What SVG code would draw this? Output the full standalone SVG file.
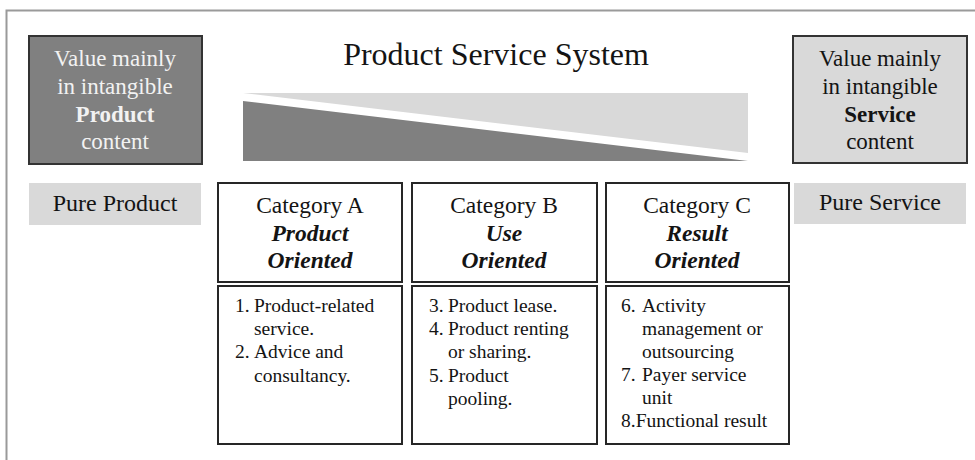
<svg xmlns="http://www.w3.org/2000/svg" width="975" height="460" viewBox="0 0 975 460" font-family="'Liberation Serif', 'DejaVu Serif', serif">
  <style>
    text { fill: #141414; }
    .c { text-anchor: middle; }
    .lbl { font-size: 23px; }
    .hdr { font-size: 23.5px; }
    .bi { font-weight: bold; font-style: italic; }
    .li { font-size: 19.5px; }
    .box { fill: #ffffff; stroke: #262626; stroke-width: 2; }
    .ext { stroke: #333333; stroke-width: 2; }
  </style>

  <rect width="975" height="460" fill="#ffffff"/>

  <!-- page frame -->
  <path d="M6.5 460 V10.5 H975" fill="none" stroke="#9a9a9a" stroke-width="2"/>

  <!-- title -->
  <text x="496" y="65" class="c" font-size="32">Product Service System</text>

  <!-- product / service balance wedge -->
  <g id="wedge">
    <polygon points="243,93 748,93 748,153" fill="#d9d9d9"/>
    <polygon points="243,101 748,161 243,161" fill="#808080"/>
  </g>

  <!-- left extreme: product -->
  <g id="value-product">
    <rect x="29" y="36" width="173" height="128" fill="#808080" class="ext"/>
    <text class="c lbl" x="115" y="66" style="fill:#f2f2f2">Value mainly</text>
    <text class="c lbl" x="115" y="94" style="fill:#f2f2f2">in intangible</text>
    <text class="c lbl" x="115" y="122" font-weight="bold" style="fill:#f2f2f2">Product</text>
    <text class="c lbl" x="115" y="149" style="fill:#f2f2f2">content</text>
  </g>
  <g id="pure-product">
    <rect x="29" y="183" width="172" height="42" fill="#d9d9d9"/>
    <text class="c" x="115" y="211" font-size="24">Pure Product</text>
  </g>

  <!-- right extreme: service -->
  <g id="value-service">
    <rect x="793" y="36" width="174" height="127" fill="#d9d9d9" class="ext"/>
    <text class="c lbl" x="880" y="66">Value mainly</text>
    <text class="c lbl" x="880" y="94">in intangible</text>
    <text class="c lbl" x="880" y="122" font-weight="bold">Service</text>
    <text class="c lbl" x="880" y="149">content</text>
  </g>
  <g id="pure-service">
    <rect x="794" y="183" width="172" height="41" fill="#d9d9d9"/>
    <text class="c" x="880" y="210" font-size="24">Pure Service</text>
  </g>

  <!-- category A -->
  <g id="cat-a">
    <rect class="box" x="218" y="183" width="184" height="99"/>
    <text class="c hdr" x="310" y="213">Category A</text>
    <text class="c hdr bi" x="310" y="241">Product</text>
    <text class="c hdr bi" x="310" y="268">Oriented</text>
  </g>
  <g id="cat-a-list">
    <rect class="box" x="218" y="286" width="184" height="158"/>
    <text class="li"><tspan x="235" y="312">1.</tspan><tspan x="254" y="312">Product-related</tspan></text>
    <text class="li" x="254" y="335">service.</text>
    <text class="li"><tspan x="235" y="358">2.</tspan><tspan x="254" y="358">Advice and</tspan></text>
    <text class="li" x="254" y="382">consultancy.</text>
  </g>

  <!-- category B -->
  <g id="cat-b">
    <rect class="box" x="412" y="183" width="185" height="99"/>
    <text class="c hdr" x="504" y="213">Category B</text>
    <text class="c hdr bi" x="504" y="241">Use</text>
    <text class="c hdr bi" x="504" y="268">Oriented</text>
  </g>
  <g id="cat-b-list">
    <rect class="box" x="412" y="286" width="185" height="158"/>
    <text class="li"><tspan x="429" y="312">3.</tspan><tspan x="448" y="312">Product lease.</tspan></text>
    <text class="li"><tspan x="429" y="335">4.</tspan><tspan x="448" y="335">Product renting</tspan></text>
    <text class="li" x="448" y="358">or sharing.</text>
    <text class="li"><tspan x="429" y="382">5.</tspan><tspan x="448" y="382">Product</tspan></text>
    <text class="li" x="448" y="405">pooling.</text>
  </g>

  <!-- category C -->
  <g id="cat-c">
    <rect class="box" x="606" y="183" width="183" height="99"/>
    <text class="c hdr" x="697" y="213">Category C</text>
    <text class="c hdr bi" x="697" y="241">Result</text>
    <text class="c hdr bi" x="697" y="268">Oriented</text>
  </g>
  <g id="cat-c-list">
    <rect class="box" x="606" y="286" width="183" height="158"/>
    <text class="li"><tspan x="621" y="312">6.</tspan><tspan x="642" y="312">Activity</tspan></text>
    <text class="li" x="642" y="335">management or</text>
    <text class="li" x="642" y="358">outsourcing</text>
    <text class="li"><tspan x="621" y="381">7.</tspan><tspan x="642" y="381">Payer service</tspan></text>
    <text class="li" x="642" y="404">unit</text>
    <text class="li" x="621" y="427">8.Functional result</text>
  </g>

  <!-- no connectors in this layout -->
  <g id="connectors"/>
</svg>
